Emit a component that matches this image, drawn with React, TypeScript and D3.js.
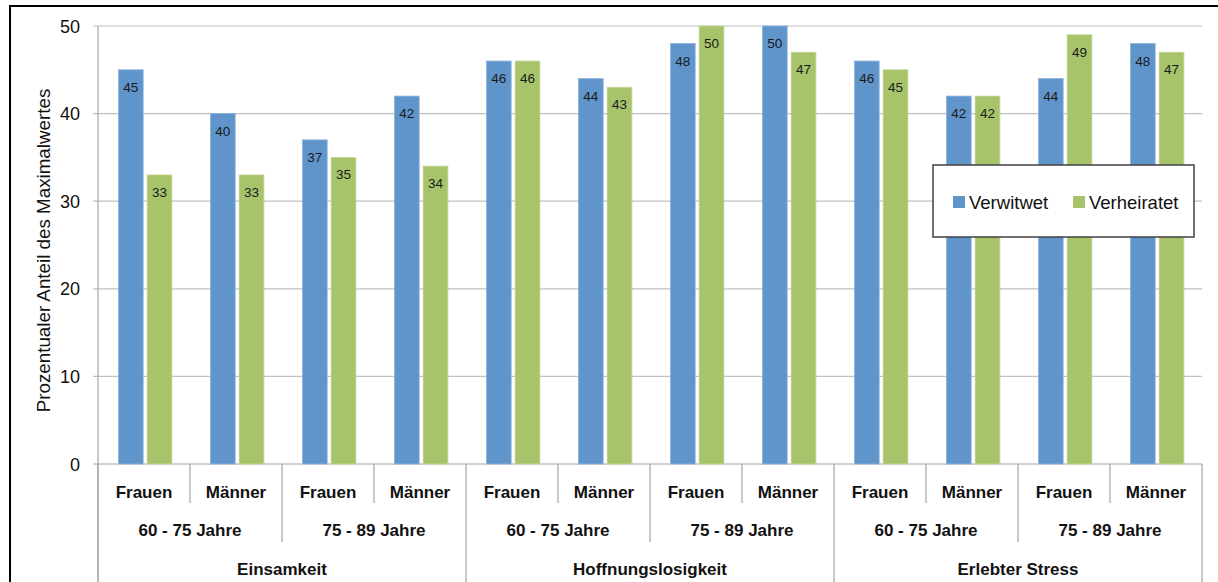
import React from "react";
import * as d3 from "d3";

const series = ["Verwitwet", "Verheiratet"];
const seriesColors = ["#5F95CA", "#A8C46B"];
const topCategories = ["Einsamkeit", "Hoffnungslosigkeit", "Erlebter Stress"];
const ageGroups = ["60 - 75 Jahre", "75 - 89 Jahre"];
const sexes = ["Frauen", "Männer"];
const verwitwet = [45, 40, 37, 42, 46, 44, 48, 50, 46, 42, 44, 48];
const verheiratet = [33, 33, 35, 34, 46, 43, 50, 47, 45, 42, 49, 47];
const yTicks = [0, 10, 20, 30, 40, 50];
const yLabel = "Prozentualer Anteil des Maximalwertes";

const W = 1218;
const H = 582;
const left = 98;
const right = 1202;
const top = 26;
const bottom = 464;
const font = "'Liberation Sans', Arial, sans-serif";

export default function App() {
  const leaves = d3.range(verwitwet.length);
  const x = d3.scaleBand<number>().domain(leaves).range([left, right]).padding(0);
  const xs = d3
    .scaleBand<string>()
    .domain(series)
    .range([0, x.bandwidth()])
    .paddingInner(0.138)
    .paddingOuter(0.67)
    .align(0.53);
  const y = d3.scaleLinear().domain([0, 50]).range([bottom, top]);
  const values = [verwitwet, verheiratet];
  const step = x.step();
  const perAge = sexes.length;
  const perTop = ageGroups.length * sexes.length;

  const seps: { x: number; y2: number }[] = [];
  for (let i = 0; i <= leaves.length; i++) {
    const xx = left + i * step;
    let y2 = 503;
    if (i % perTop === 0) y2 = H + 5;
    else if (i % perAge === 0) y2 = 542;
    seps.push({ x: xx, y2 });
  }

  return (
    <svg
      width={W}
      height={H}
      style={{ position: "absolute", left: 0, top: 0, background: "#fff" }}
      fontFamily={font}
    >
      <rect x={0} y={0} width={W} height={H} fill="#fff" />
      <rect x={10} y={6} width={W + 20} height={H + 20} fill="none" stroke="#000" strokeWidth={2} />

      {/* gridlines */}
      {yTicks.map((t) => (
        <g key={t}>
          <line x1={left - 5} x2={right} y1={y(t)} y2={y(t)} stroke={t === 0 ? "#a6a6a6" : "#c0c0c0"} strokeWidth={1.2} />
          <text x={80} y={y(t) + 6.5} textAnchor="end" fontSize={18} fill="#111">
            {t}
          </text>
        </g>
      ))}
      <line x1={left} x2={left} y1={top} y2={H + 5} stroke="#a6a6a6" strokeWidth={1.2} />

      {/* y label */}
      <text
        transform={`translate(50,${(87 + 414) / 2}) rotate(-90)`}
        textAnchor="middle"
        fontSize={18.8}
        fill="#111"
      >
        {yLabel}
      </text>

      {/* bars */}
      {leaves.map((i) =>
        series.map((s, si) => {
          const v = values[si][i];
          const bx = (x(i) as number) + (xs(s) as number);
          return (
            <g key={`${i}-${s}`}>
              <rect
                x={bx}
                y={y(v)}
                width={xs.bandwidth()}
                height={y(0) - y(v)}
                fill={seriesColors[si]}
                stroke={si === 0 ? "#8db3dc" : "#c3d69a"}
                strokeWidth={0.8}
              />
              <text
                x={bx + xs.bandwidth() / 2}
                y={y(v) + 22}
                textAnchor="middle"
                fontSize={13.5}
                fill="#1a1a1a"
              >
                {v}
              </text>
            </g>
          );
        })
      )}

      {/* category separators */}
      {seps.map((s, i) => (
        <line key={i} x1={s.x} x2={s.x} y1={bottom} y2={s.y2} stroke="#a6a6a6" strokeWidth={1.2} />
      ))}

      {/* level 1 labels */}
      {leaves.map((i) => (
        <text
          key={`l1-${i}`}
          x={(x(i) as number) + step / 2}
          y={498}
          textAnchor="middle"
          fontSize={17}
          fontWeight="bold"
          fill="#111"
        >
          {sexes[i % perAge]}
        </text>
      ))}
      {/* level 2 labels */}
      {d3.range(topCategories.length * ageGroups.length).map((j) => (
        <text
          key={`l2-${j}`}
          x={left + j * perAge * step + (perAge * step) / 2}
          y={536}
          textAnchor="middle"
          fontSize={17}
          fontWeight="bold"
          fill="#111"
        >
          {ageGroups[j % ageGroups.length]}
        </text>
      ))}
      {/* level 3 labels */}
      {topCategories.map((c, k) => (
        <text
          key={`l3-${k}`}
          x={left + k * perTop * step + (perTop * step) / 2}
          y={575}
          textAnchor="middle"
          fontSize={17}
          fontWeight="bold"
          fill="#111"
        >
          {c}
        </text>
      ))}

      {/* legend */}
      <g>
        <rect x={933} y={165} width={261} height={72} fill="#fff" stroke="#404040" strokeWidth={1.5} />
        {series.map((s, si) => {
          const lx = si === 0 ? 953 : 1073;
          return (
            <g key={s}>
              <rect x={lx} y={196} width={12} height={12} fill={seriesColors[si]} />
              <text x={lx + 16} y={208.5} fontSize={18.5} fill="#111">
                {s}
              </text>
            </g>
          );
        })}
      </g>
    </svg>
  );
}
